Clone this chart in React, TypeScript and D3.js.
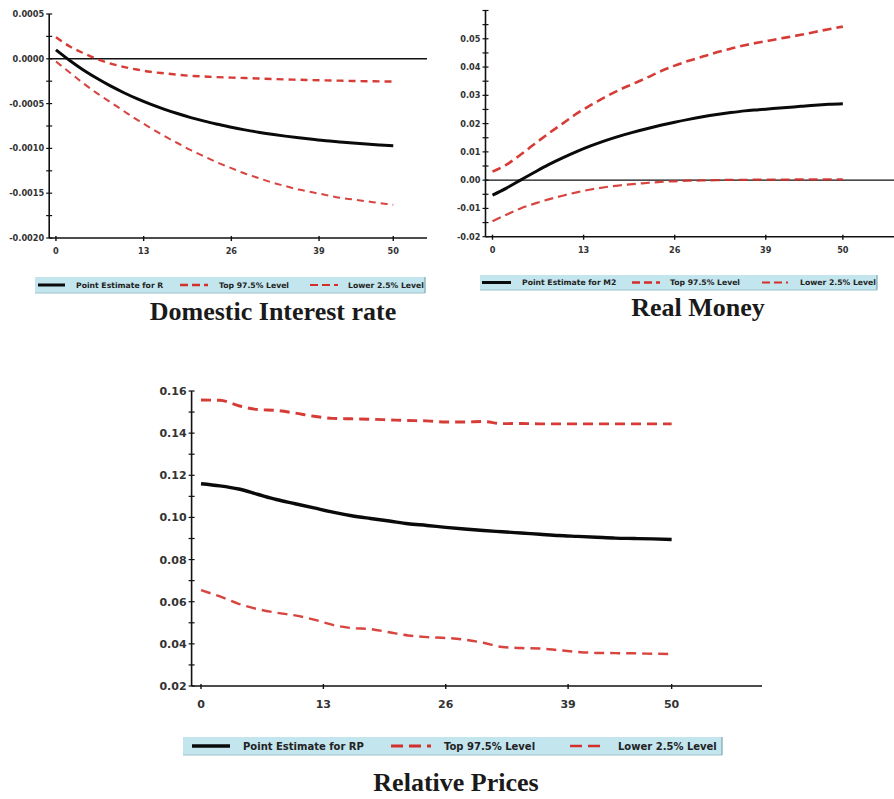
import React from "react";
import * as d3 from "d3";

const PERIODS = [0, 2, 4, 6, 8, 10, 12, 14, 16, 18, 20, 22, 24, 26, 28, 30, 32, 34, 36, 38, 40, 42, 44, 46, 48, 50];
const X_TICKS = [0, 13, 26, 39, 50];

const R_POINT = [0.0001, -0.000016, -0.000122, -0.000215, -0.0003, -0.000376, -0.000445, -0.000506, -0.000561, -0.000611, -0.000656, -0.000696, -0.000731, -0.000764, -0.000793, -0.000819, -0.000842, -0.000863, -0.000882, -0.000899, -0.000915, -0.000928, -0.000941, -0.000952, -0.000962, -0.000971];
const R_UPPER = [0.00024, 0.00014, 0.000065, 0.0, -0.00005, -0.00009, -0.00012, -0.000145, -0.000162, -0.000177, -0.00019, -0.000198, -0.000205, -0.00021, -0.000215, -0.00022, -0.000225, -0.00023, -0.000234, -0.000238, -0.000241, -0.000244, -0.000247, -0.00025, -0.000252, -0.000254];
const R_LOWER = [-0.00003, -0.00015, -0.00027, -0.00038, -0.00048, -0.00058, -0.00068, -0.00077, -0.00086, -0.00094, -0.00102, -0.00109, -0.00116, -0.00122, -0.00128, -0.00133, -0.00138, -0.00142, -0.00146, -0.00149, -0.00152, -0.00155, -0.00157, -0.00159, -0.00161, -0.00163];
const R_Y_TICKS = [0.0005, 0, -0.0005, -0.001, -0.0015, -0.002];

const M2_POINT = [-0.0053, -0.0028, 0.0, 0.0028, 0.0055, 0.0079, 0.0101, 0.0121, 0.0139, 0.0155, 0.0169, 0.0182, 0.0194, 0.0205, 0.0215, 0.0224, 0.0232, 0.0239, 0.0245, 0.0249, 0.0253, 0.0257, 0.0261, 0.0265, 0.0268, 0.027];
const M2_UPPER = [0.003, 0.0055, 0.009, 0.0128, 0.0165, 0.02, 0.0235, 0.0265, 0.0293, 0.0318, 0.034, 0.0362, 0.0385, 0.0405, 0.0422, 0.0437, 0.0452, 0.0465, 0.0477, 0.0487, 0.0496, 0.0505, 0.0514, 0.0524, 0.0534, 0.0543];
const M2_LOWER = [-0.0145, -0.0122, -0.01, -0.0083, -0.0068, -0.0055, -0.0043, -0.0033, -0.0025, -0.0019, -0.0014, -0.001, -0.0006, -0.0004, -0.0002, -0.0001, 0.0, 0.0001, 0.0001, 0.0002, 0.0002, 0.0002, 0.0003, 0.0003, 0.0003, 0.0003];
const M2_Y_TICKS = [0.05, 0.04, 0.03, 0.02, 0.01, 0, -0.01, -0.02];

const RP_POINT = [0.116, 0.115, 0.1135, 0.111, 0.1085, 0.1065, 0.1045, 0.1025, 0.1008, 0.0995, 0.0983, 0.097, 0.0962, 0.0953, 0.0945, 0.0938, 0.0932, 0.0926, 0.092, 0.0914, 0.091, 0.0906, 0.0902, 0.09, 0.0898, 0.0895];
const RP_UPPER = [0.1557, 0.1556, 0.153, 0.1512, 0.1508, 0.1495, 0.148, 0.147, 0.1468, 0.1466, 0.1463, 0.146, 0.1458, 0.1453, 0.1453, 0.1455, 0.1445, 0.1446, 0.1444, 0.1444, 0.1444, 0.1444, 0.1444, 0.1444, 0.1444, 0.1444];
const RP_LOWER = [0.0655, 0.0625, 0.059, 0.0565, 0.0548, 0.0535, 0.0515, 0.049, 0.0475, 0.047, 0.0455, 0.044, 0.0432, 0.0428, 0.042, 0.0405, 0.0385, 0.038, 0.0378, 0.037, 0.0362, 0.0357, 0.0356, 0.0355, 0.0353, 0.0352];
const RP_Y_TICKS = [0.16, 0.14, 0.12, 0.1, 0.08, 0.06, 0.04, 0.02];

const LEGEND_UPPER = "Top 97.5% Level";
const LEGEND_LOWER = "Lower 2.5% Level";

const locale = d3.formatLocale({ decimal: ".", thousands: ",", grouping: [3], currency: ["", ""], minus: "-" });

const RED = "#d4302b";
const AXIS_FONT = "'DejaVu Sans', Verdana, sans-serif";
const TITLE_FONT = "'Liberation Serif', 'Times New Roman', serif";

type Cfg = {
  name: string;
  point: number[];
  upper: number[];
  lower: number[];
  yTicks: number[];
  fmt: string;
  xDomain: [number, number];
  xRange: [number, number];
  yDomain: [number, number];
  yRange: [number, number];
  minorStep: number;
  zeroLine: boolean;
  tickFont: number;
  legendFont: number;
  legend: { x: number; y: number; w: number; h: number; items: number[][] };
  title: string;
  titleX: number;
  titleY: number;
  dash: string;
  legendDash: string;
  redWidth: number;
  blackWidth: number;
};

function Panel({ cfg }: { cfg: Cfg }) {
  const x = d3.scaleLinear().domain(cfg.xDomain).range(cfg.xRange);
  const y = d3.scaleLinear().domain(cfg.yDomain).range(cfg.yRange);
  const line = d3
    .line<number>()
    .x((_, i) => x(PERIODS[i]))
    .y((d) => y(d))
    .curve(d3.curveMonotoneX);
  const fmt = locale.format(cfg.fmt);
  const ax = cfg.xRange[0];
  const ay = y(cfg.yDomain[0]);
  const n = Math.round((cfg.yDomain[1] - cfg.yDomain[0]) / cfg.minorStep);
  const minor = d3.range(n + 1).map((i) => cfg.yDomain[0] + i * cfg.minorStep);
  const L = cfg.legend;
  const ly = L.y + L.h / 2;
  const [b0, b1, bt, u0, u1, ut, l0, l1, lt] = L.items.flat();
  const legendTexts = [`Point Estimate for ${cfg.name}`, LEGEND_UPPER, LEGEND_LOWER];
  return (
    <g>
      {cfg.zeroLine && (
        <line x1={ax} x2={cfg.xRange[1]} y1={y(0)} y2={y(0)} stroke="#111" strokeWidth={1.4} />
      )}
      <path d={line(cfg.upper) || ""} fill="none" stroke={RED} strokeWidth={cfg.redWidth} strokeDasharray={cfg.dash} opacity={0.95} />
      <path d={line(cfg.lower) || ""} fill="none" stroke={RED} strokeWidth={cfg.redWidth * 0.85} strokeDasharray={cfg.dash} opacity={0.9} />
      <path d={line(cfg.point) || ""} fill="none" stroke="#0a0a0a" strokeWidth={cfg.blackWidth} />
      <line x1={ax} x2={ax} y1={cfg.yRange[0]} y2={cfg.yRange[1]} stroke="#111" strokeWidth={1.6} />
      {minor.map((v, i) => (
        <line key={"m" + i} x1={ax - 3} x2={ax + 3} y1={y(v)} y2={y(v)} stroke="#111" strokeWidth={1.2} />
      ))}
      {cfg.yTicks.map((v, i) => (
        <text
          key={"yt" + i}
          x={ax - 5}
          y={y(v)}
          dy="0.36em"
          textAnchor="end"
          fontFamily={AXIS_FONT}
          fontWeight="bold"
          fontSize={cfg.tickFont}
          fill="#333"
        >
          {fmt(v)}
        </text>
      ))}
      <line x1={ax} x2={cfg.xRange[1]} y1={ay} y2={ay} stroke="#111" strokeWidth={1.6} />
      {X_TICKS.map((t, i) => (
        <g key={"xt" + i}>
          <line x1={x(t)} x2={x(t)} y1={ay - 2} y2={ay + 3} stroke="#111" strokeWidth={1.4} />
          <text
            x={x(t)}
            y={ay + cfg.tickFont * 1.6}
            dy="0.36em"
            textAnchor="middle"
            fontFamily={AXIS_FONT}
            fontWeight="bold"
            fontSize={cfg.tickFont}
            fill="#333"
          >
            {t}
          </text>
        </g>
      ))}
      <rect x={L.x} y={L.y} width={L.w} height={L.h} fill="#c2e5ee" />
      <line x1={L.x} x2={L.x + L.w} y1={L.y + L.h} y2={L.y + L.h} stroke="#9cc3cc" strokeWidth={1.2} />
      <line x1={L.x + L.w} x2={L.x + L.w} y1={L.y} y2={L.y + L.h} stroke="#7fa6ae" strokeWidth={1.2} />
      <line x1={L.x + b0} x2={L.x + b1} y1={ly} y2={ly} stroke="#0a0a0a" strokeWidth={cfg.blackWidth} />
      <line x1={L.x + u0} x2={L.x + u1} y1={ly} y2={ly} stroke={RED} strokeWidth={cfg.redWidth} strokeDasharray={cfg.legendDash} />
      <line x1={L.x + l0} x2={L.x + l1} y1={ly} y2={ly} stroke={RED} strokeWidth={cfg.redWidth * 0.8} strokeDasharray={cfg.legendDash} />
      {[bt, ut, lt].map((tx, i) => (
        <text
          key={"lg" + i}
          x={L.x + tx}
          y={ly}
          dy="0.36em"
          fontFamily={AXIS_FONT}
          fontWeight="bold"
          fontSize={cfg.legendFont}
          fill="#222"
        >
          {legendTexts[i]}
        </text>
      ))}
      <text
        x={cfg.titleX}
        y={cfg.titleY}
        textAnchor="middle"
        fontFamily={TITLE_FONT}
        fontWeight="bold"
        fontSize={26}
        fill="#1a1a1a"
      >
        {cfg.title}
      </text>
    </g>
  );
}

const PANELS: Cfg[] = [
  {
    name: "R",
    point: R_POINT,
    upper: R_UPPER,
    lower: R_LOWER,
    yTicks: R_Y_TICKS,
    fmt: ".4f",
    xDomain: [-1, 55],
    xRange: [49.2, 427],
    yDomain: [-0.002, 0.0005],
    yRange: [238, 14],
    minorStep: 0.00025,
    zeroLine: true,
    tickFont: 8.2,
    legendFont: 7.7,
    legend: { x: 35, y: 277, w: 390, h: 16, items: [[3, 30, 41], [145, 173, 184], [275, 303, 313]] },
    title: "Domestic Interest rate",
    titleX: 273,
    titleY: 320,
    dash: "7 5",
    legendDash: "8 4",
    redWidth: 2.4,
    blackWidth: 3,
  },
  {
    name: "M2",
    point: M2_POINT,
    upper: M2_UPPER,
    lower: M2_LOWER,
    yTicks: M2_Y_TICKS,
    fmt: ".2f",
    xDomain: [-1, 57.3],
    xRange: [485.5, 894],
    yDomain: [-0.02, 0.06],
    yRange: [236.7, 10.5],
    minorStep: 0.005,
    zeroLine: true,
    tickFont: 8.2,
    legendFont: 7.7,
    legend: { x: 480, y: 275, w: 397, h: 15, items: [[2, 31, 42], [152, 180, 190], [282, 308, 320]] },
    title: "Real Money",
    titleX: 698,
    titleY: 316,
    dash: "9 5",
    legendDash: "8 4",
    redWidth: 2.6,
    blackWidth: 3,
  },
  {
    name: "RP",
    point: RP_POINT,
    upper: RP_UPPER,
    lower: RP_LOWER,
    yTicks: RP_Y_TICKS,
    fmt: ".2f",
    xDomain: [-1, 59.6],
    xRange: [191.6, 762],
    yDomain: [0.02, 0.16],
    yRange: [686, 391],
    minorStep: 0.01,
    zeroLine: false,
    tickFont: 11,
    legendFont: 10,
    legend: { x: 183, y: 737, w: 539, h: 18, items: [[9, 47, 60], [208, 248, 261], [387, 423, 435]] },
    title: "Relative Prices",
    titleX: 456,
    titleY: 791,
    dash: "10 6",
    legendDash: "12 6",
    redWidth: 2.9,
    blackWidth: 3.4,
  },
];

export default function App() {
  return (
    <svg
      width={894}
      height={799}
      viewBox="0 0 894 799"
      style={{ position: "absolute", left: 0, top: 0, background: "#fff" }}
    >
      <rect x={0} y={0} width={894} height={799} fill="#fff" />
      {PANELS.map((p, i) => (
        <Panel key={i} cfg={p} />
      ))}
    </svg>
  );
}
